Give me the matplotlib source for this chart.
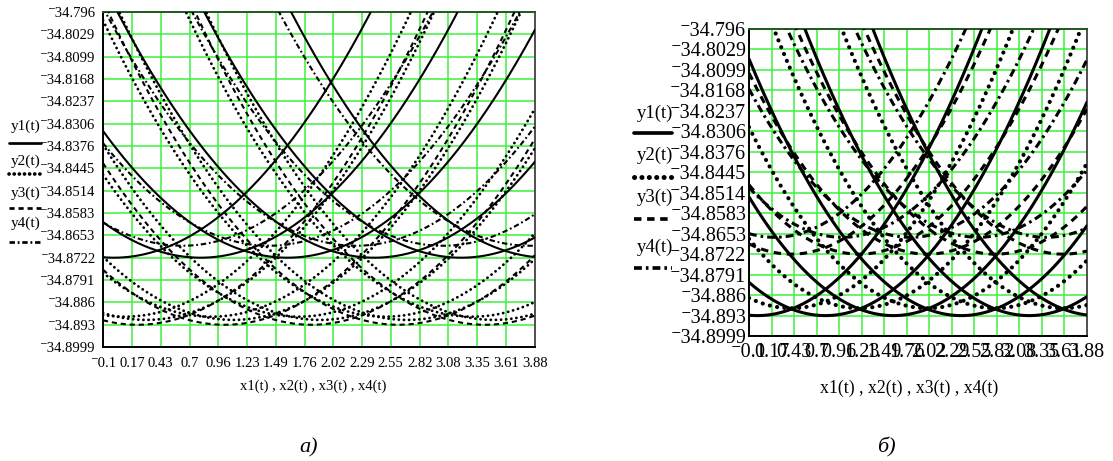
import numpy as np
import matplotlib
matplotlib.use("Agg")
import matplotlib.pyplot as plt
from matplotlib.lines import Line2D

# ---------------- data ----------------
x_tick_values = [-0.1, 0.17, 0.43, 0.7, 0.96, 1.23, 1.49, 1.76, 2.02, 2.29,
                 2.55, 2.82, 3.08, 3.35, 3.61, 3.88]
x_tick_labels = ["\u207b0.1", "0.17", "0.43", "0.7", "0.96", "1.23", "1.49", "1.76",
                 "2.02", "2.29", "2.55", "2.82", "3.08", "3.35", "3.61", "3.88"]
y_tick_values = [-34.796, -34.8029, -34.8099, -34.8168, -34.8237, -34.8306,
                 -34.8376, -34.8445, -34.8514, -34.8583, -34.8653, -34.8722,
                 -34.8791, -34.886, -34.893, -34.8999]
y_tick_labels = ["\u207b34.796", "\u207b34.8029", "\u207b34.8099", "\u207b34.8168",
                 "\u207b34.8237", "\u207b34.8306", "\u207b34.8376", "\u207b34.8445",
                 "\u207b34.8514", "\u207b34.8583", "\u207b34.8653", "\u207b34.8722",
                 "\u207b34.8791", "\u207b34.886", "\u207b34.893", "\u207b34.8999"]
series_names = ["y1(t)", "y2(t)", "y3(t)", "y4(t)"]
x_label = "x1(t) , x2(t) , x3(t) , x4(t)"
captions = ["\u0430)", "\u0431)"]

# vertex positions of the parabolic branches (x), read from the crossing lattice
vertex_x = [0.0, 0.8, 1.6, 2.4, 3.2, 4.0]
max_vertex = 4.05   # no branch has its vertex beyond this x
curv_a = 0.0136     # rise per unit^2 in panel a
curv_b = 0.0139     # rise per unit^2 in panel b

# panel a: series index, vertex level and x shift of each branch set
a_series = [1, 1, 2, 3, 0]
a_levels = [-34.8915, -34.8905, -34.893, -34.8685, -34.8722]
a_shifts = [0.30, 0.10, 0.22, 0.63, 0.0]

# panel b
b_series = [1, 2, 3, 0]
b_levels = [-34.8905, -34.8722, -34.8665, -34.893]
b_shifts = [0.40, 0.40, 0.20, 0.0]

# ---------------- styling ----------------
plt.rcParams["lines.scale_dashes"] = False
SERIF = ["Liberation Serif", "DejaVu Serif"]
plt.rcParams["font.family"] = SERIF
GRID = "#3cf03c"

W, H = 1113, 461
fig = plt.figure(figsize=(W / 100, H / 100), dpi=100)


def fx(px):
    return px / W


def fy(py):
    return 1 - py / H


def styles(lw, k):
    return [
        dict(linestyle="-", lw=lw, solid_capstyle="round"),
        dict(linestyle=(0, (0.1, 3.6 * k)), lw=lw * 1.35, dash_capstyle="round"),
        dict(linestyle=(0, (3.7 * k, 2.8 * k)), lw=lw, dash_capstyle="butt"),
        dict(linestyle=(0, (3.9 * k, 2.0 * k, 1.3 * k, 2.0 * k)), lw=lw,
             dash_capstyle="butt"),
    ]


def make_axes(rect, tick_fs, xpad, ypad):
    ax = fig.add_axes(rect)
    ax.set_xlim(-0.1, 3.88)
    ax.set_ylim(-34.8999, -34.796)
    ax.set_xticks(x_tick_values)
    ax.set_xticklabels(x_tick_labels, fontsize=tick_fs)
    ax.set_yticks(y_tick_values)
    ax.set_yticklabels(y_tick_labels, fontsize=tick_fs)
    ax.tick_params(axis="x", length=0, pad=xpad)
    ax.tick_params(axis="y", length=0, pad=ypad)
    ax.grid(True, color=GRID, lw=1.1, zorder=0)
    ax.set_axisbelow(True)
    for s in ["left", "bottom"]:
        ax.spines[s].set_color("black")
        ax.spines[s].set_linewidth(1.4)
    ax.spines["top"].set_color("#1e5a1e")
    ax.spines["top"].set_linewidth(1.4)
    ax.spines["right"].set_color("#505050")
    ax.spines["right"].set_linewidth(1.4)
    return ax


def draw_set(ax, level, shift, curv, style, z):
    xs = np.linspace(-0.1, 3.88, 900)
    for c in vertex_x:
        v = c + shift
        if v > max_vertex:
            continue
        ys = level + curv * (xs - v) ** 2
        ax.plot(xs, ys, color="black", zorder=z, **style)


def draw_panel(ax, series, levels, shifts, curv, st):
    for s_i, lev, sh in zip(series, levels, shifts):
        draw_set(ax, lev, sh, curv, st[s_i], 4 if s_i == 0 else 3)


# ---- panel a ----
axa = make_axes([fx(103), fy(347), fx(432), 335 / H], 10.5, 7, 6)
st = styles(1.5, 1.0)
draw_panel(axa, a_series, a_levels, a_shifts, curv_a, st)
fig.text(fx(313), fy(386), x_label, fontsize=10.5, ha="center", va="center")
fig.text(fx(309), fy(448), captions[0], fontsize=16, style="italic",
         ha="center", va="center")

leg_text_y = [126, 161, 193, 223]
leg_line_y = [143, 174, 208, 242]
for i in range(4):
    fig.text(fx(11), fy(leg_text_y[i]), series_names[i], fontsize=11,
             ha="left", va="center")
    s = dict(st[i])
    s["lw"] = s["lw"] * 1.3
    fig.add_artist(Line2D([fx(9), fx(41)], [fy(leg_line_y[i])] * 2,
                          color="black", transform=fig.transFigure, **s))

# ---- panel b ----
axb = make_axes([fx(749), fy(336), fx(338), 307 / H], 14.5, 5, 2)
st = styles(2.2, 1.45)
draw_panel(axb, b_series, b_levels, b_shifts, curv_b, st)
fig.text(fx(909), fy(388), x_label, fontsize=12.8, ha="center", va="center")
fig.text(fx(886), fy(447), captions[1], fontsize=16, style="italic",
         ha="center", va="center")

leg_text_y = [113, 155, 197, 247]
leg_line_y = [133, 177, 219, 268]
for i in range(4):
    fig.text(fx(637), fy(leg_text_y[i]), series_names[i], fontsize=13.5,
             ha="left", va="center")
    s = dict(st[i])
    s["lw"] = s["lw"] * 1.2
    fig.add_artist(Line2D([fx(634), fx(672)], [fy(leg_line_y[i])] * 2,
                          color="black", transform=fig.transFigure, **s))

fig.savefig("out.png", dpi=100)
